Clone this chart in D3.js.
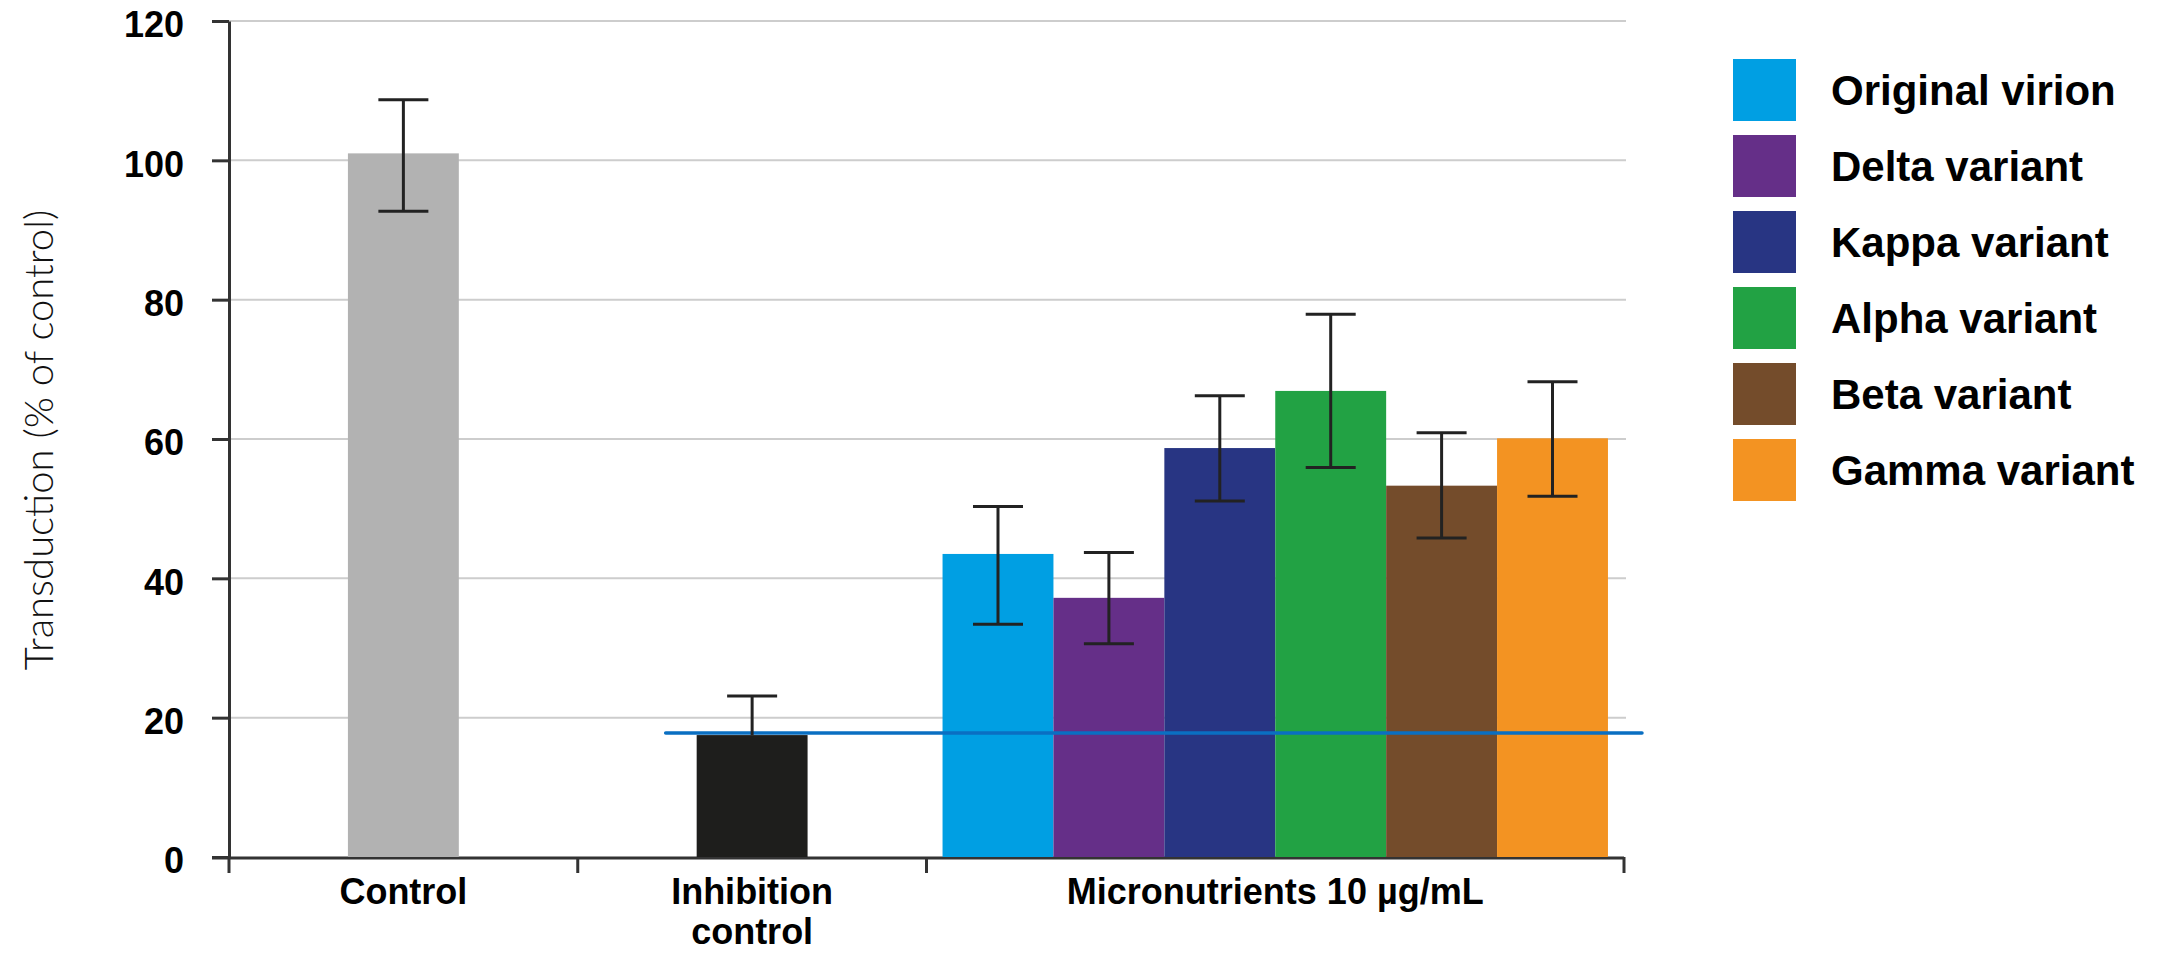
<!DOCTYPE html>
<html>
<head>
<meta charset="utf-8">
<script src="https://cdn.jsdelivr.net/npm/d3@7"></script>
<style>
  html, body { margin: 0; padding: 0; background: #fff; }
  svg { display: block; }
</style>
</head>
<body>
<svg id="chart" width="2177" height="953"></svg>
<script>
// ---------------- data ----------------
const groupLabels = [["Control"], ["Inhibition", "control"], ["Micronutrients 10 µg/mL"]];
const groupSlots = [1, 1, 2];               // width of each group, in slots
const controlNames = ["Control", "Inhibition control"];
const controlValues = [101, 17.5];
const controlErrHigh = [108.7, 23.1];
const controlErrLow = [92.7, 17.5];
const controlColors = ["#b2b2b2", "#1e1e1c"];

const variants = ["Original virion", "Delta variant", "Kappa variant", "Alpha variant", "Beta variant", "Gamma variant"];
const variantValues = [43.5, 37.2, 58.7, 66.9, 53.3, 60.1];
const variantErrHigh = [50.3, 43.7, 66.2, 77.9, 60.9, 68.2];
const variantErrLow = [33.4, 30.6, 51.1, 55.9, 45.8, 51.8];
const variantColors = ["#009fe3", "#652f88", "#283583", "#22a244", "#744c2b", "#f39322"];

const yTicks = [0, 20, 40, 60, 80, 100, 120];
const referenceLevel = 17.8;
const yTitle = "Transduction (% of control)";

(function () {
// ---------------- layout ----------------
const svg = d3.select("#chart");
const mLeft = 229, mRight = 1624, mTop = 21, mBottom = 857;
const totalSlots = d3.sum(groupSlots);
const x = d3.scaleLinear().domain([0, totalSlots]).range([mLeft, mRight]);
const y = d3.scaleLinear().domain([0, 120]).range([mBottom, mTop]);
const barUnits = 0.318;
const boldFont = "'Liberation Sans', Arial, sans-serif";

// gridlines
svg.append("g").selectAll("line").data(yTicks.filter(d => d > 0)).join("line")
  .attr("x1", mLeft).attr("x2", mRight + 2)
  .attr("y1", d => y(d)).attr("y2", d => y(d))
  .attr("stroke", "#cdcdcd").attr("stroke-width", 2);

// y axis
const yAxis = d3.axisLeft(y).tickValues(yTicks).tickSize(17).tickPadding(28).tickSizeOuter(0);
const yg = svg.append("g").attr("transform", `translate(${mLeft},0)`).call(yAxis);
yg.select(".domain").attr("stroke", "#333").attr("stroke-width", 3);
yg.selectAll(".tick line").attr("stroke", "#333").attr("stroke-width", 3);
yg.selectAll(".tick text")
  .attr("font-family", boldFont).attr("font-weight", "bold").attr("font-size", 36)
  .attr("fill", "#000").attr("dy", "0.44em");

// group boundaries
const bounds = [0];
groupSlots.forEach(s => bounds.push(bounds[bounds.length - 1] + s));

// x axis line
svg.append("line").attr("x1", mLeft - 17).attr("x2", mRight)
  .attr("y1", mBottom + 1).attr("y2", mBottom + 1)
  .attr("stroke", "#333").attr("stroke-width", 3);
svg.append("g").selectAll("line").data(bounds).join("line")
  .attr("x1", d => x(d)).attr("x2", d => x(d))
  .attr("y1", mBottom).attr("y2", mBottom + 16)
  .attr("stroke", "#333").attr("stroke-width", 3);

// x labels
const lab = svg.append("g");
groupLabels.forEach((lines, i) => {
  const cx = x((bounds[i] + bounds[i + 1]) / 2);
  const t = lab.append("text")
    .attr("x", cx).attr("y", 904)
    .attr("text-anchor", "middle")
    .attr("font-family", boldFont).attr("font-weight", "bold").attr("font-size", 36)
    .attr("fill", "#000");
  lines.forEach((ln, j) => {
    t.append("tspan").attr("x", cx).attr("dy", j === 0 ? 0 : 40).text(ln);
  });
});

// control bars
const errColor = "#222";
const capHalf = 25;
const barW = x(barUnits) - x(0);
svg.append("g").selectAll("rect").data(controlNames).join("rect")
  .attr("x", (d, i) => x(bounds[i] + groupSlots[i] / 2) - barW / 2).attr("width", barW)
  .attr("y", (d, i) => y(controlValues[i]))
  .attr("height", (d, i) => y(0) - y(controlValues[i]))
  .attr("fill", (d, i) => controlColors[i]);

// variant bars
const gStart = bounds[2], gEnd = bounds[3];
const gMid = (gStart + gEnd) / 2;
const vx = d3.scaleBand().domain(variants)
  .range([x(gMid - barUnits * variants.length / 2), x(gMid + barUnits * variants.length / 2)])
  .padding(0);
svg.append("g").selectAll("rect").data(variants).join("rect")
  .attr("x", d => vx(d)).attr("width", vx.bandwidth())
  .attr("y", (d, i) => y(variantValues[i]))
  .attr("height", (d, i) => y(0) - y(variantValues[i]))
  .attr("fill", (d, i) => variantColors[i]);

// reference line
const inhibLeft = x(bounds[1] + groupSlots[1] / 2) - barW / 2;
svg.append("line")
  .attr("x1", inhibLeft - 31).attr("x2", mRight + 18)
  .attr("y1", y(referenceLevel)).attr("y2", y(referenceLevel))
  .attr("stroke", "#0a6fc2").attr("stroke-width", 3.5).attr("stroke-linecap", "round");

// error bars
function errBar(cx, val, lo, hi) {
  const g = svg.append("g").attr("stroke", errColor).attr("stroke-width", 3);
  g.append("line").attr("x1", cx).attr("x2", cx).attr("y1", y(lo)).attr("y2", y(hi));
  g.append("line").attr("x1", cx - capHalf).attr("x2", cx + capHalf).attr("y1", y(hi)).attr("y2", y(hi));
  if (lo < val) {
    g.append("line").attr("x1", cx - capHalf).attr("x2", cx + capHalf).attr("y1", y(lo)).attr("y2", y(lo));
  }
}
controlNames.forEach((n, i) => {
  errBar(x(bounds[i] + groupSlots[i] / 2), controlValues[i], controlErrLow[i], controlErrHigh[i]);
});
variants.forEach((v, i) => {
  errBar(vx(v) + vx.bandwidth() / 2, variantValues[i], variantErrLow[i], variantErrHigh[i]);
});

// y title
svg.append("text")
  .attr("transform", `translate(38,440) rotate(-90)`)
  .attr("text-anchor", "middle").attr("dominant-baseline", "central")
  .attr("font-family", "Lato, 'Open Sans', sans-serif").attr("font-weight", 300)
  .attr("font-size", 40).attr("fill", "#111")
  .text(yTitle);

// legend
const leg = svg.append("g");
variants.forEach((v, i) => {
  const ty = 59 + 76 * i;
  leg.append("rect").attr("x", 1733).attr("y", ty).attr("width", 63).attr("height", 62)
    .attr("fill", variantColors[i]);
  leg.append("text").attr("x", 1831).attr("y", ty + 46)
    .attr("font-family", boldFont).attr("font-weight", "bold").attr("font-size", 42)
    .attr("fill", "#000").text(v);
});
})();
</script>
</body>
</html>
